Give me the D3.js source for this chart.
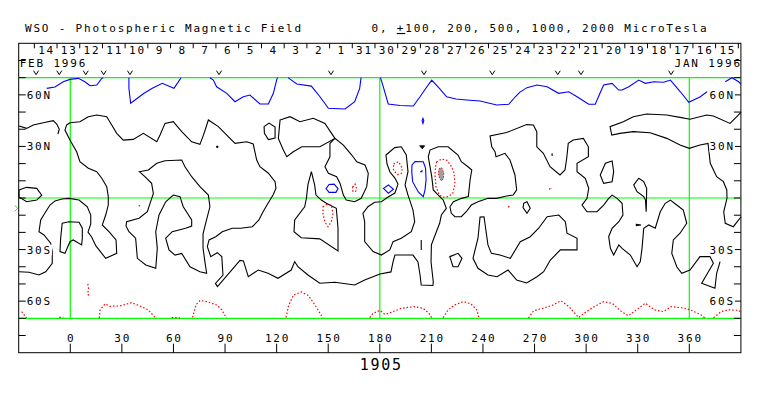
<!DOCTYPE html>
<html>
<head>
<meta charset="utf-8">
<script src="https://cdn.jsdelivr.net/npm/d3@7"></script>
<style>
  body { margin: 0; background: #fff; }
  svg text { font-family: "DejaVu Sans Mono", "Liberation Mono", monospace; }
</style>
</head>
<body>
<div id="chart"></div>
<script>
// ---- data (longitude, latitude in degrees) ----
const rotation = "1905";
const dayLabels = ["14","13","12","11","10","9","8","7","6","5","4","3","2","1","31","30","29","28","27","26","25","24","23","22","21","20","19","18","17","16","15"];
const dayTickLons = [-20.9,-7.7,5.5,18.7,31.9,45.1,58.3,71.5,84.7,97.9,111.2,124.4,137.6,150.8,164.0,177.2,190.4,203.6,216.8,230.0,243.2,256.5,269.7,282.9,296.1,309.3,322.5,335.7,348.9,362.1,375.3,388.5];
const obsLons = [-19.9,-6.4,9.0,19.4,34.7,86.5,151.6,205.7,245.4,283.5,297.0,349.4];
const lonTicks = [0,30,60,90,120,150,180,210,240,270,300,330,360];
const latTicks = [-80,-70,-60,-50,-40,-30,-20,-10,0,10,20,30,40,50,60,70,80];
const latLabels = [[60,"60N"],[30,"30N"],[-30,"30S"],[-60,"60S"]];
const gridLons = [0,180,360];
const gridLats = [70,0,-70];

// negative (-100) contours, blue
const negLines = [
  [[-13.7,63.8],[-8.9,64.6],[-4.1,67.6],[-0.2,69.0],[4.7,69.6],[8.5,67.6],[11.5,65.3],[15.4,65.7],[18.3,69.6],[19.2,70]],
  [[34.1,70],[34.1,63.8],[35.1,55.1],[39.0,58.0],[42.9,60.9],[47.7,63.8],[53.5,66.7],[60.3,63.8],[64.2,69.6],[64.4,70]],
  [[81.2,70],[83.2,68.6],[85.1,64.7],[91.0,60.9],[95.8,56.0],[100.6,58.9],[104.5,59.9],[110.3,54.7],[115.2,54.7],[118.1,60.9],[120.0,68.6],[120.5,70]],
  [[126.6,70],[131.7,66.3],[140.2,65.1],[145.2,58.9],[150.1,52.2],[159.8,51.8],[165.4,56.0],[168.3,63.8],[169.1,70]],
  [[180.4,70],[182.0,64.8],[183.6,59.3],[184.9,54.7],[191.8,53.8],[199.5,53.5],[203.4,58.9],[206.9,64.0],[210.2,68.6],[214.4,64.0],[218.9,58.9],[224.3,57.6],[230.5,57.0],[238.3,56.4],[248.0,54.1],[255.0,54.5],[258.8,58.9],[261.5,61.6],[265.6,64.2],[271.4,65.7],[277.3,64.7],[284.0,60.9],[289.9,61.8],[294.7,58.9],[301.5,54.5],[305.3,54.5],[308.1,61.1],[310.2,65.7],[315.1,66.7],[318.9,62.8],[320.9,62.8],[324.8,64.7],[330.6,68.6],[334.4,66.7],[339.3,67.6],[345.1,67.3],[349.0,68.6],[354.8,61.8],[359.7,55.7],[366.4,58.9],[370.3,61.8]],
  [[380.9,67.6],[384.8,70],[388.7,67.6],[390,66.3]],
  [[203.4,15.3],[204.5,15.3],[204.5,16.3]]
];
const negLoops = [
  [[205.1,46.3],[205.6,44.9],[205.1,43.4],[204.6,44.9]],
  [[198.7,19.2],[200.5,21.2],[205.3,21.1],[206.6,17.4],[206.9,10.5],[206.3,4.7],[205.3,0.8],[202.4,3.5],[199.1,9.5],[198.6,15.1]],
  [[182.1,5.6],[185.0,7.6],[187.9,5.1],[185.0,2.8]],
  [[148.7,5.5],[150.5,7.9],[153.4,8.1],[155.7,5.5],[154.5,3.3],[150.5,3.3]]
];

// positive (+100) contours, red dotted
const posLines = [
  [[-28.3,-66.1],[-25.4,-69.8]],
  [[-6.4,-69.5],[-4.1,-69.5]],
  [[16.9,-69.8],[17.3,-65.1],[20.2,-61.6],[23.1,-63.0],[28.9,-62.8],[35.7,-60.9],[40.5,-62.8],[45.4,-65.1],[49.3,-69.5]],
  [[59.0,-69.5],[63.8,-69.8]],
  [[71.1,-69.5],[73.1,-62.2],[75.5,-59.6],[79.3,-60.2],[85.1,-62.2],[88.1,-65.1],[90.8,-69.8]],
  [[125.5,-69.5],[126.9,-62.8],[129.8,-56.4],[134.5,-54.7],[138.4,-56.7],[142.3,-62.2],[146.9,-69.8]],
  [[174.2,-69.6],[176.0,-67.1],[180.1,-65.4],[183.0,-67.7],[186.7,-66.5],[192.5,-64.2],[199.9,-63.2],[205.3,-64.2],[208.6,-67.1],[210.1,-69.6]],
  [[216.8,-69.6],[219.7,-65.1],[223.6,-62.2],[228.6,-60.3],[233.0,-61.6],[236.4,-65.1],[237.7,-69.8]],
  [[266.5,-69.8],[269.4,-65.6],[274.3,-64.3],[280.2,-62.5],[285.4,-59.8],[290.0,-63.2],[295.6,-69.5],[299.4,-66.6],[304.8,-63.2],[310.1,-60.3],[315.3,-61.4],[319.7,-65.5],[324.6,-68.5],[329.6,-64.8],[334.4,-61.2],[339.7,-65.1],[345.0,-66.1],[349.4,-63.2],[356.6,-64.0],[360.7,-65.1],[366.8,-68.0],[369.1,-69.8]],
  [[374.1,-69.6],[378.5,-66.1],[383.1,-65.1],[388.6,-65.4],[390,-66.3]],
  [[40.1,-4.1],[40.1,-6.0]],
  [[10.2,-50.0],[10.7,-53.0],[10.2,-55.0],[10.7,-57.4]],
  [[278.6,5.6],[279.2,4.6],[279.8,5.6]],
  [[254.6,-4.8],[255.4,-5.4]]
];
const posLoops = [
  [[188.0,19.8],[190.9,21.1],[193.1,17.3],[192.6,14.4],[190.3,13.7],[188.0,16.0]],
  [[213.0,20.9],[215.9,22.7],[219.1,21.9],[221.8,18.2],[223.3,14.0],[223.7,8.1],[222.4,2.7],[219.8,0.8],[216.9,0.5],[214.6,1.7],[212.7,6.6],[212.1,13.4],[212.4,18.2]],
  [[164.2,6.4],[165.6,8.1],[166.5,5.5],[165.9,3.8],[164.4,3.8]],
  [[147.0,-5.1],[148.7,-3.8],[151.8,-4.1],[152.8,-8.9],[151.8,-13.8],[149.9,-16.7],[148.0,-13.8],[147.0,-9.3]]
];
// +200 region, filled grey
const strongPos = [
  [[214.4,16.9],[215.9,17.7],[217.2,14.8],[217.0,11.3],[215.9,9.9],[214.7,11.6],[214.1,14.5]]
];

// neutral line (0), black
const zeroLines = [
  [[-29.8,41.9],[-25.4,40.5],[-21.5,42.5],[-15.7,43.8],[-9.9,45.0],[-7.9,43.0],[-6.4,40.0],[-7.2,37.2]],
  [[-29.8,-42.9],[-24.0,-43.2],[-18.2,-44.8],[-14.3,-42.9],[-10.5,-38.0],[-10.5,-31.2],[-11.4,-26.3],[-15.3,-21.5],[-18.2,-19.6],[-17.2,-12.8],[-14.3,-8.0],[-11.8,-4.1],[-8.9,-1.7],[-4.8,-0.6],[-0.8,-0.2],[5.1,-1.2],[9.9,-5.1],[11.9,-9.9],[11.9,-15.1],[10.3,-19.8],[12.4,-22.7],[14.9,-27.9],[20.6,-35.1],[27.0,-32.2],[26.6,-24.4],[22.5,-19.6],[18.6,-15.7],[20.6,-9.9],[22.1,-4.1],[22.1,0.8],[21.2,6.6],[18.3,11.5],[15.4,15.3],[10.5,17.3],[5.6,21.1],[3.7,26.9],[-0.2,33.7],[-3.1,39.5],[-2.1,42.5],[-0.2,43.8],[5.6,44.4],[10.5,47.3],[15.4,48.3],[21.2,47.3],[24.1,42.5],[27.0,37.6],[30.8,33.7],[36.6,34.1],[42.5,37.6],[50.3,32.7],[52.2,36.6],[55.1,43.4],[59.9,44.4],[64.8,38.6],[70.6,32.7],[75.4,31.2],[77.8,37.6],[80.3,45.4],[86.1,41.5],[91.0,36.6],[95.8,31.8],[102.6,32.7],[106.4,31.4],[108.4,22.1],[110.3,18.2],[115.2,14.4],[119.1,9.5],[119.6,5.6],[117.9,1.7],[115.0,-3.1],[112.1,-8.0],[109.7,-12.8],[105.9,-16.7],[99.1,-17.6],[94.2,-17.6],[88.4,-19.6],[84.6,-22.5],[80.7,-24.4],[79.7,-28.3],[81.7,-34.1],[85.5,-31.8],[88.1,-34.1],[88.8,-44.8],[84.4,-49.7],[85.6,-51.5],[98.7,-36.3],[100.7,-36.6],[103.5,-45.8],[109.3,-41.9],[115.0,-43.8],[120.8,-46.7],[128.5,-41.9],[130.5,-37.0],[132.4,-40.0],[138.2,-44.8],[145.1,-49.6],[153.8,-49.0],[165.4,-50.6],[171.2,-47.7],[180.1,-44.2],[186.5,-43.0],[187.7,-37.2],[188.8,-33.2],[199.3,-33.2],[202.2,-37.2],[203.4,-44.8],[204.1,-50.6],[210.9,-50.9],[211.1,-48.7],[209.8,-37.2],[210.0,-27.3],[212.9,-19.6],[214.8,-14.7],[215.8,-9.9],[218.7,-6.0],[216.9,-1.2],[214.0,1.7],[211.1,4.7],[210.2,12.4],[209.2,18.2],[208.2,24.0],[209.2,27.9],[214.0,29.8],[219.7,29.8],[225.5,25.0],[227.4,21.1],[231.3,18.2],[233.5,16.3],[232.5,10.5],[231.5,0.8],[227.6,-0.2],[222.8,-2.2],[220.8,-5.1],[221.6,-8.9],[223.7,-10.9],[227.4,-10.9],[230.3,-8.0],[233.2,-4.1],[237.1,-2.2],[242.9,-0.2],[248.0,-0.2],[253.8,1.2],[257.6,1.7],[259.6,4.7],[258.6,13.4],[255.7,22.1],[252.8,26.0],[247.6,24.0],[247.0,26.9],[245.1,29.8],[244.1,36.1],[253.8,38.1],[265.4,42.7],[269.3,42.5],[271.3,38.6],[271.3,29.8],[275.1,26.0],[279.0,18.2],[284.8,13.4],[287.7,16.3],[288.7,23.1],[289.6,31.8],[292.5,33.7],[298.4,34.7],[301.3,29.8],[301.3,24.0],[294.7,20.2],[294.7,15.3],[299.5,11.5],[301.5,5.6],[300.5,-0.2],[297.6,-4.1],[300.5,-8.0],[306.3,-8.0],[310.2,-4.1],[313.1,-0.2],[315.1,1.7],[318.0,-0.2],[320.9,-3.1],[321.4,-9.9],[319.0,-13.8],[315.1,-17.6],[313.1,-22.5],[314.1,-29.3],[316.0,-33.2],[319.0,-27.3],[320.9,-29.3],[325.7,-33.2],[329.6,-40.0],[331.5,-37.0],[332.5,-29.3],[333.5,-17.6],[336.4,-15.7],[340.2,-17.6],[343.1,-8.0],[346.0,-3.1],[349.0,-1.2],[352.7,-4.1],[356.5,-7.0],[358.5,-14.7],[354.6,-20.5],[350.7,-24.4],[349.8,-32.2],[352.7,-40.0],[355.6,-43.8],[360.4,-41.9],[366.2,-34.1],[372.0,-34.1],[374.0,-38.0],[371.1,-42.9],[367.2,-49.6],[374.9,-52.5],[375.9,-43.8],[377.9,-37.0]],
  [[390.1,50.0],[387.6,47.3],[383.7,43.4],[374.0,47.7],[370.1,48.3],[360.4,45.8],[354.6,46.9],[346.9,48.3],[335.2,48.9],[327.4,47.3],[321.6,44.4],[313.9,41.5],[314.9,36.6],[319.7,37.6],[327.4,38.6],[337.2,38.0],[346.9,34.7],[354.6,30.8],[360.0,28.9],[366.2,30.8],[370.9,31.8],[371.3,27.9],[372.2,20.2],[375.9,12.4],[379.8,9.5],[381.8,4.7],[381.9,-0.2],[380.0,-8.0],[380.9,-14.7],[385.6,-16.7],[390.1,-10.9]],
  [[204.1,-24.4],[204.1,-30.2]],
  [[280.2,26.0],[280.2,24.4]],
  [[85.2,29.8],[85.8,29.8]]
];
const zeroLoops = [
  [[-4.7,-14.7],[-0.8,-13.8],[5.1,-14.1],[7.0,-17.6],[7.0,-23.4],[6.6,-27.3],[1.7,-24.4],[-0.2,-25.4],[-3.1,-32.2],[-6.0,-31.2],[-5.6,-23.4]],
  [[-29.8,4.7],[-25.4,6.2],[-19.5,5.6],[-16.6,1.7],[-19.5,-1.2],[-25.4,-2.2],[-29.8,0.6]],
  [[40.1,15.3],[45.4,16.3],[50.3,20.2],[55.1,21.7],[64.8,22.1],[66.7,18.2],[70.6,12.4],[75.4,6.6],[80.3,1.7],[81.2,-5.1],[78.9,-14.0],[77.2,-20.9],[77.2,-29.1],[78.3,-37.2],[79.3,-43.8],[75.4,-42.9],[69.6,-40.0],[64.8,-32.2],[60.9,-33.2],[57.4,-30.2],[55.5,-23.4],[59.3,-19.6],[67.1,-17.6],[70.6,-16.3],[70.6,-12.8],[65.7,-5.1],[63.8,0.8],[59.9,1.7],[55.5,-2.2],[51.6,-9.9],[49.7,-19.6],[50.6,-29.3],[49.7,-40.9],[43.9,-39.0],[39.0,-35.1],[38.0,-23.4],[34.1,-19.6],[32.4,-16.3],[32.8,-13.8],[40.0,-11.8],[44.8,-8.0],[46.4,-3.1],[48.3,2.7],[47.3,8.5],[43.4,12.4]],
  [[112.7,41.5],[115.6,43.6],[119.1,41.3],[119.1,34.9],[115.2,34.0],[112.9,37.6]],
  [[122.0,45.4],[127.8,47.3],[133.6,44.4],[141.3,46.4],[148.1,43.4],[153.9,34.7],[145.2,29.8],[134.6,29.8],[129.7,26.9],[125.9,24.0],[123.9,27.9],[121.0,34.7]],
  [[153.9,34.7],[151.0,31.8],[151.0,24.0],[148.1,18.2],[150.1,14.4],[154.9,12.4],[156.9,8.5],[158.8,1.7],[160.5,-1.2],[165.4,-2.2],[169.2,-0.2],[172.4,6.6],[173.3,14.4],[171.4,19.2],[166.6,21.1],[163.7,25.0],[158.8,30.8]],
  [[140.2,15.3],[142.1,7.6],[142.9,1.7],[146.0,-1.2],[148.9,-3.1],[154.7,-6.0],[155.7,-17.6],[155.7,-30.8],[145.1,-23.8],[134.3,-23.1],[130.1,-19.6],[130.5,-12.8],[136.3,-5.1],[137.3,-0.2],[138.2,7.6]],
  [[183.6,25.0],[188.7,29.3],[192.5,29.8],[195.4,25.0],[196.4,15.3],[194.7,7.6],[196.4,1.7],[197.4,-1.2],[199.3,-7.0],[200.3,-13.8],[198.3,-19.6],[192.5,-23.4],[187.7,-25.4],[185.8,-30.2],[180.9,-33.2],[176.1,-31.2],[171.2,-25.4],[171.2,-13.8],[170.2,-8.9],[173.1,-5.1],[177.0,-2.5],[180.9,-2.2],[184.8,0.6],[188.8,2.9],[190.6,8.1],[188.8,11.6],[185.9,15.1],[184.2,19.8]],
  [[238.3,-11.1],[237.1,-23.4],[234.2,-35.1],[237.1,-40.9],[242.9,-44.8],[248.2,-45.8],[254.6,-41.9],[259.6,-47.7],[265.4,-49.4],[271.4,-45.8],[275.3,-42.9],[279.2,-36.1],[285.0,-30.2],[294.7,-30.2],[294.7,-23.4],[288.9,-20.5],[287.9,-13.8],[284.1,-9.9],[277.3,-10.9],[272.4,-17.6],[267.5,-22.5],[261.7,-25.4],[255.9,-35.1],[249.9,-33.2],[244.9,-32.2],[242.9,-27.3],[240.6,-10.9]],
  [[220.7,-34.1],[225.5,-32.2],[227.8,-35.1],[225.5,-40.0],[222.6,-40.0]],
  [[308.2,13.4],[311.2,20.2],[315.1,21.5],[316.0,15.3],[315.1,9.5],[310.2,8.5]],
  [[327.7,7.6],[330.6,11.5],[333.5,9.5],[335.2,5.6],[335.1,-1.2],[334.9,-8.0],[334.5,-1.2],[333.5,0.8],[329.6,3.7]],
  [[263.7,-3.1],[265.6,-2.2],[267.5,-6.0],[265.6,-8.9],[263.3,-5.6]],
  [[329.2,-15.3],[331.9,-15.7],[329.2,-16.1]]
];
// small filled neutral-line knot (triangle) and dot
const zeroFilled = [
  [[203.2,30.4],[206.1,30.4],[204.7,28.6]],
  [[85.1,30.2],[85.9,30.2],[85.9,29.4],[85.1,29.4]]
];

// ---- drawing ----
const W = 763, H = 396;
const x = d3.scaleLinear().domain([-30, 390]).range([18.7, 740.9]);
const y = d3.scaleLinear().domain([90, -90]).range([43.3, 352.7]);

const svg = d3.select("#chart").append("svg")
  .attr("width", W).attr("height", H)
  .style("display", "block");

const line = d3.line().x(d => x(d[0])).y(d => y(d[1]));
const loop = d3.line().x(d => x(d[0])).y(d => y(d[1])).curve(d3.curveLinearClosed);

// frame
svg.append("rect")
  .attr("x", x(-30)).attr("y", y(90))
  .attr("width", x(390) - x(-30)).attr("height", y(-90) - y(90))
  .attr("fill", "none").attr("stroke", "#000").attr("stroke-width", 1);

// green grid
const grid = svg.append("g").attr("stroke", "#00ff00").attr("stroke-width", 1.2);
grid.selectAll("line.h").data(gridLats).join("line").attr("class", "h")
  .attr("x1", x(-30)).attr("x2", x(390))
  .attr("y1", d => y(d)).attr("y2", d => y(d));
grid.selectAll("line.v").data(gridLons).join("line").attr("class", "v")
  .attr("x1", d => x(d)).attr("x2", d => x(d))
  .attr("y1", y(70)).attr("y2", y(-70));

// contours
const cont = svg.append("g").attr("fill", "none");
cont.selectAll("path.sp").data(strongPos).join("path").attr("class", "sp")
  .attr("d", loop).attr("fill", "#a0a0a0").attr("stroke", "#ff0000").attr("stroke-width", 1)
  .attr("stroke-dasharray", "1.5,1.5");
cont.selectAll("path.zl").data(zeroLines).join("path").attr("class", "zl")
  .attr("d", line).attr("stroke", "#000").attr("stroke-width", 1.1);
cont.selectAll("path.zc").data(zeroLoops).join("path").attr("class", "zc")
  .attr("d", loop).attr("stroke", "#000").attr("stroke-width", 1.1);
cont.selectAll("path.zf").data(zeroFilled).join("path").attr("class", "zf")
  .attr("d", loop).attr("fill", "#000").attr("stroke", "#000").attr("stroke-width", 0.8);
cont.selectAll("path.nl").data(negLines).join("path").attr("class", "nl")
  .attr("d", line).attr("stroke", "#0000ff").attr("stroke-width", 1.1);
cont.selectAll("path.nc").data(negLoops).join("path").attr("class", "nc")
  .attr("d", loop).attr("stroke", "#0000ff").attr("stroke-width", 1.1);
cont.selectAll("path.pl").data(posLines).join("path").attr("class", "pl")
  .attr("d", line).attr("stroke", "#ff0000").attr("stroke-width", 1.2)
  .attr("stroke-dasharray", "1.5,2");
cont.selectAll("path.pc").data(posLoops).join("path").attr("class", "pc")
  .attr("d", loop).attr("stroke", "#ff0000").attr("stroke-width", 1.2)
  .attr("stroke-dasharray", "1.5,2");

// latitude ticks both sides
const axes = svg.append("g").attr("stroke", "#000").attr("stroke-width", 1);
axes.selectAll("line.lt").data(latTicks).join("line").attr("class", "lt")
  .attr("x1", x(-30)).attr("x2", x(-30) + 7)
  .attr("y1", d => y(d)).attr("y2", d => y(d));
axes.selectAll("line.rt").data(latTicks).join("line").attr("class", "rt")
  .attr("x1", x(390) - 7).attr("x2", x(390))
  .attr("y1", d => y(d)).attr("y2", d => y(d));
// longitude ticks on bottom
axes.selectAll("line.bt").data(lonTicks).join("line").attr("class", "bt")
  .attr("x1", d => x(d)).attr("x2", d => x(d))
  .attr("y1", y(-90)).attr("y2", y(-90) - 9);
// day ticks on top
axes.selectAll("line.dt").data(dayTickLons).join("line").attr("class", "dt")
  .attr("x1", d => x(d)).attr("x2", d => x(d))
  .attr("y1", y(90)).attr("y2", y(90) + 5);

// observation marks (v)
svg.append("g").selectAll("path").data(obsLons).join("path")
  .attr("d", d => `M${x(d) - 2.5},${y(70) - 7}L${x(d)},${y(70) - 3}L${x(d) + 2.5},${y(70) - 7}`)
  .attr("fill", "none").attr("stroke", "#000").attr("stroke-width", 1);

// text
const txt = svg.append("g").attr("fill", "#000").style("font-size", "11px").style("letter-spacing", "1.8px");

// latitude labels, white behind
function latLabel(lat, s, side) {
  const t = txt.append("text")
    .attr("x", side === "l" ? x(-30) + 8 : x(390) - 6)
    .attr("y", y(lat) + 4)
    .attr("text-anchor", side === "l" ? "start" : "end")
    .text(s);
  const b = t.node().getBBox();
  txt.insert("rect", () => t.node())
    .attr("x", b.x).attr("y", b.y + 1).attr("width", b.width).attr("height", b.height - 2)
    .attr("fill", "#fff");
}
latLabels.forEach(d => { latLabel(d[0], d[1], "l"); latLabel(d[0], d[1], "r"); });

// day labels
txt.selectAll("text.day").data(dayLabels).join("text").attr("class", "day")
  .attr("x", (d, i) => (x(dayTickLons[i]) + x(dayTickLons[i + 1])) / 2 + 0.9)
  .attr("y", y(90) + 10.2)
  .attr("text-anchor", "middle")
  .text(d => d);

txt.append("text").attr("x", x(-30) + 1).attr("y", y(90) + 23.8).text("FEB 1996");
txt.append("text").attr("x", x(390) + 1).attr("y", y(90) + 23.8).attr("text-anchor", "end").text("JAN 1996");

// longitude labels
txt.selectAll("text.lon").data(lonTicks).join("text").attr("class", "lon")
  .attr("x", d => x(d) + 0.9)
  .attr("y", y(-90) - 11)
  .attr("text-anchor", "middle")
  .text(d => d);

// title
txt.append("text").attr("x", 25).attr("y", 32).text("WSO - Photospheric Magnetic Field");
const lev = txt.append("text").attr("x", 371.5).attr("y", 32);
lev.append("tspan").text("0, ");
lev.append("tspan").style("text-decoration", "underline").text("+");
lev.append("tspan").text("100, 200, 500, 1000, 2000 MicroTesla");

// rotation number
svg.append("text").attr("x", x(180) + 1.5).attr("y", 370)
  .attr("text-anchor", "middle").style("font-size", "15px").style("letter-spacing", "1.8px")
  .text(rotation);

// small marker on left edge
svg.append("path")
  .attr("d", `M${x(-30) - 4},${y(-6) - 3}L${x(-30) - 1},${y(-6)}L${x(-30) - 4},${y(-6) + 3}`)
  .attr("fill", "none").attr("stroke", "#00ff00").attr("stroke-width", 1);
</script>
</body>
</html>
